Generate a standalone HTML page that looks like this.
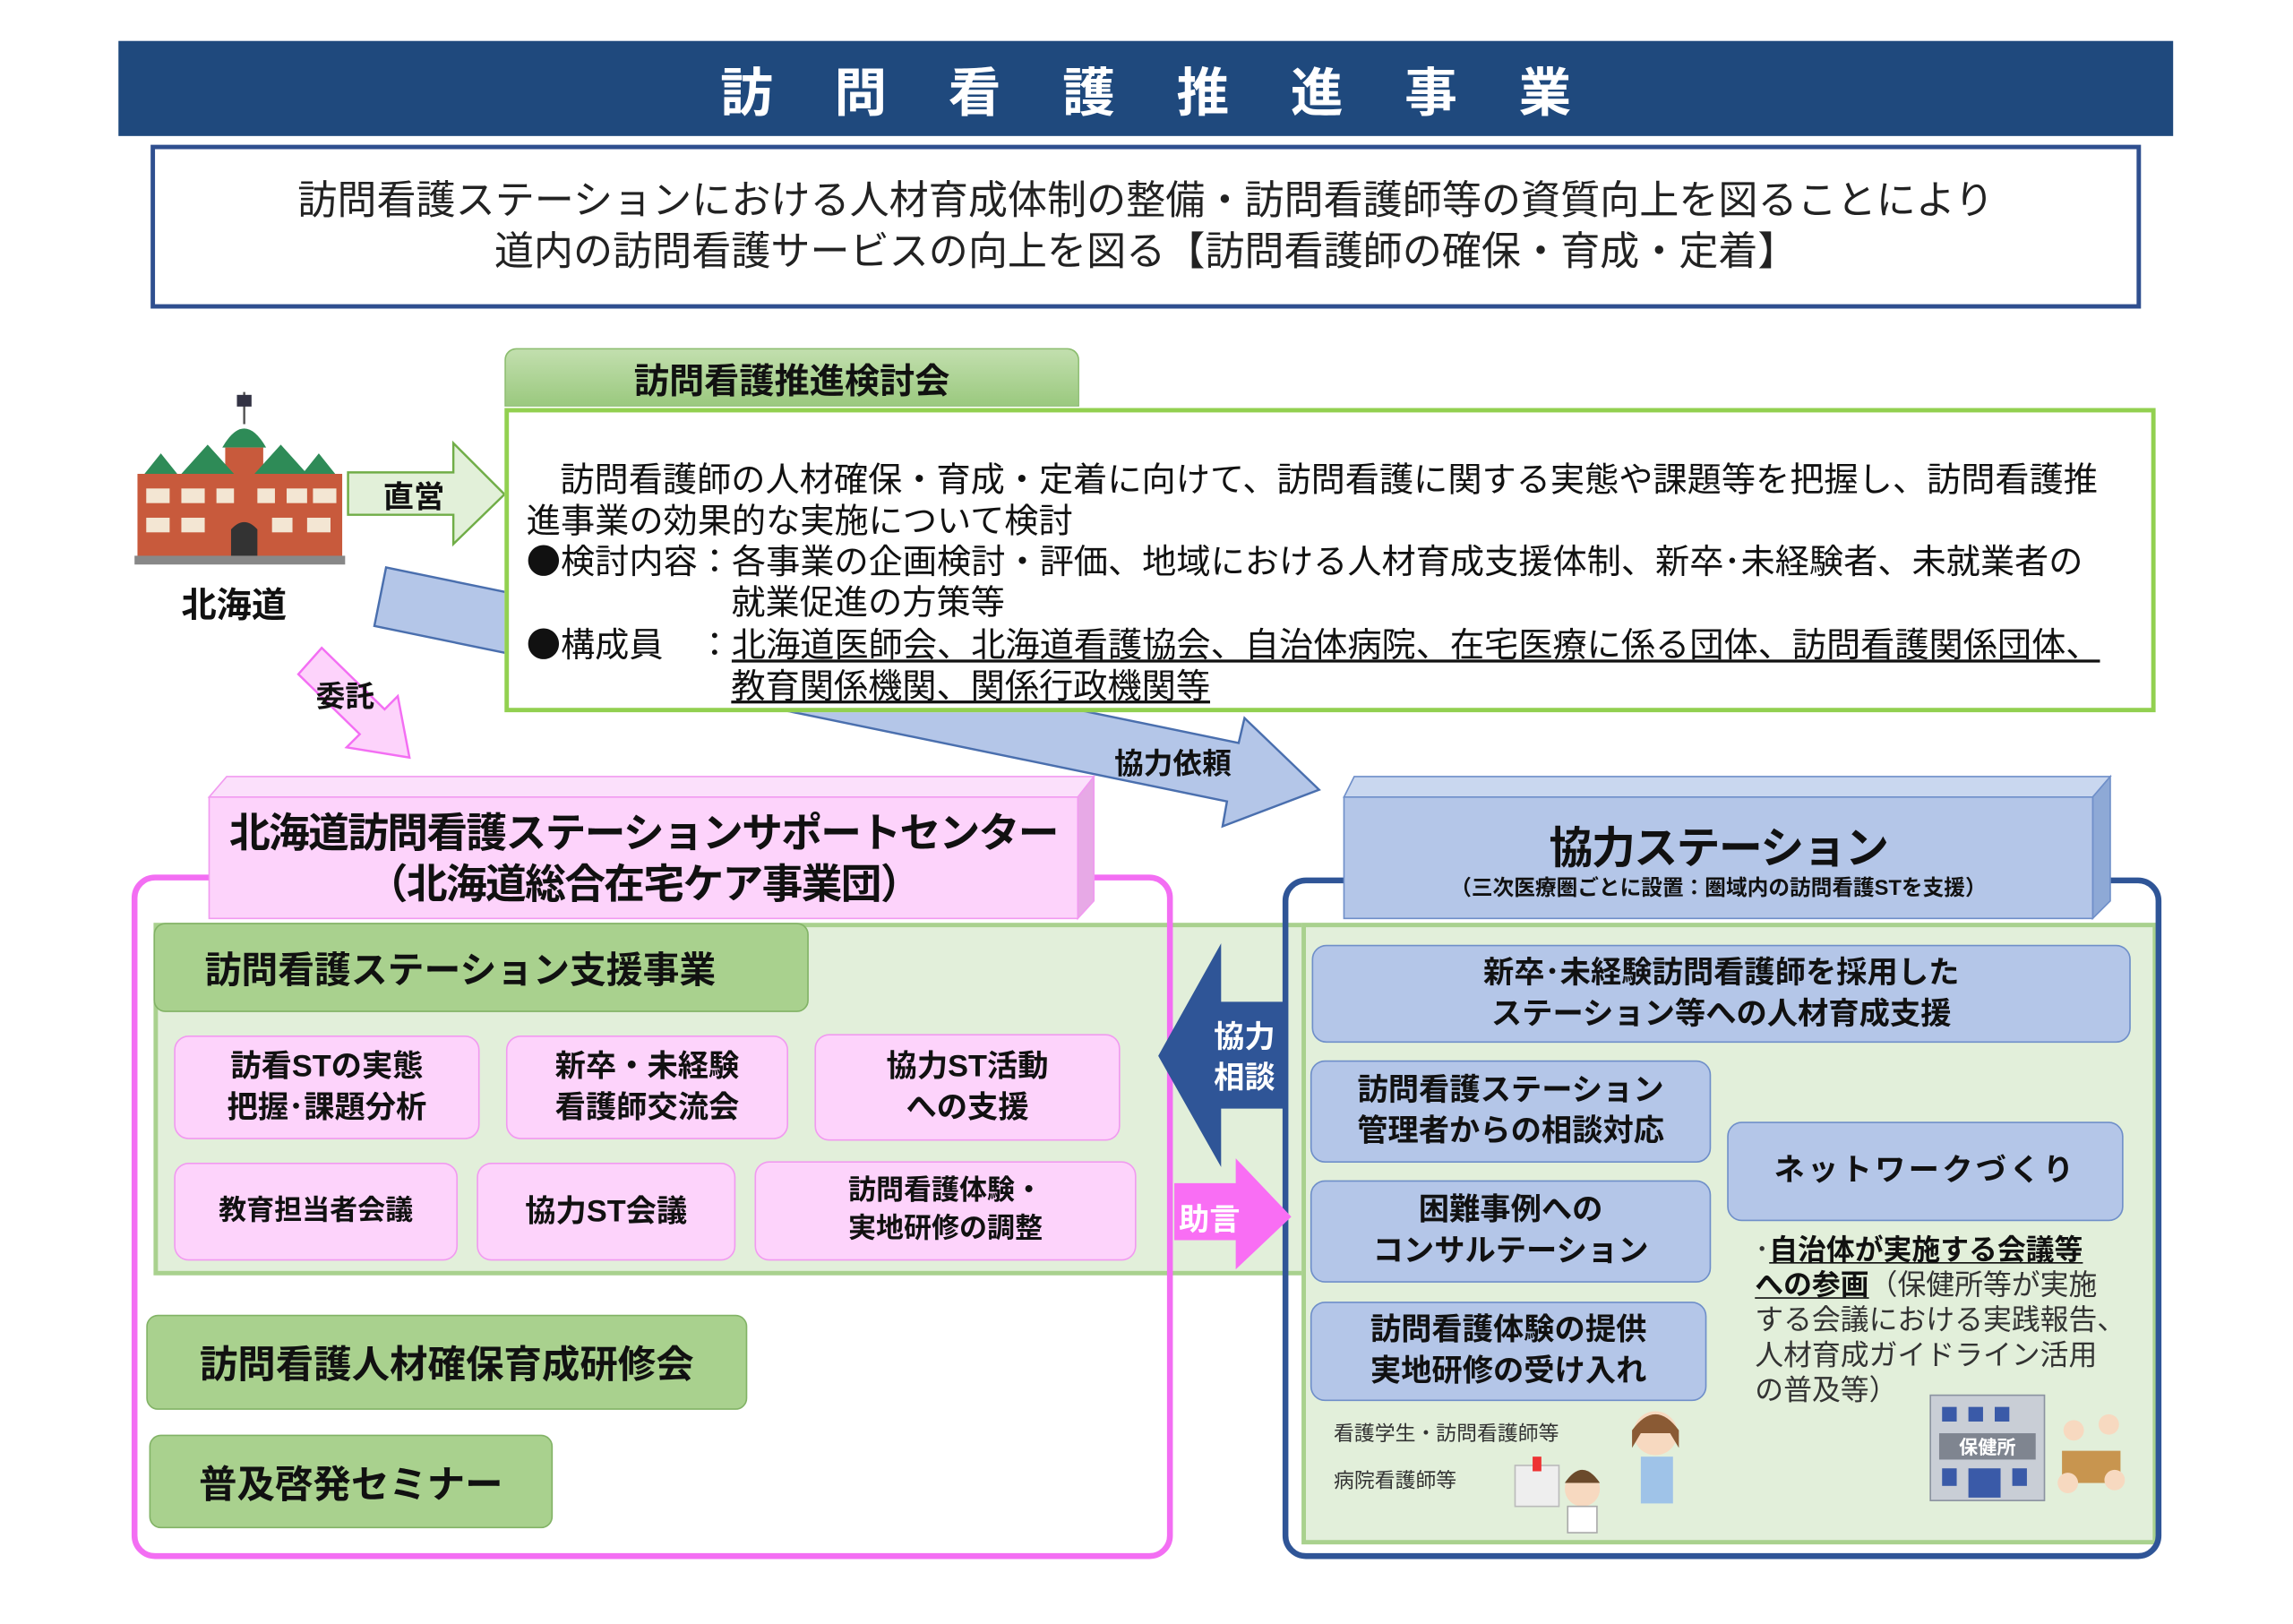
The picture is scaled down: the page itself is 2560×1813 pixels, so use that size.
<!DOCTYPE html>
<html><head><meta charset="utf-8">
<style>
html,body{margin:0;padding:0;background:#fff;}
body{width:2560px;height:1813px;overflow:hidden;position:relative;}
#w{position:absolute;left:0;top:0;width:1568px;height:1110px;transform:scale(1.6327);transform-origin:0 0;font-family:"Liberation Sans","Noto Sans CJK JP",sans-serif;color:#111;}
.a{position:absolute;box-sizing:border-box;}
.t{position:absolute;white-space:nowrap;}
.c{display:flex;align-items:center;justify-content:center;text-align:center;flex-direction:column;}
.pk{background:#fdd3fb;border:1.5px solid #f19af0;border-radius:10px;font-weight:bold;font-size:21px;line-height:28px;}
.bl{background:#b4c6e8;border:1.5px solid #6f8fc9;border-radius:10px;font-weight:bold;font-size:21px;line-height:28px;}
.gr{background:#a9d18e;border:1.5px solid #82b366;border-radius:8px;font-weight:bold;}
u{text-decoration:underline;text-underline-offset:2px;}
.j{font-family:"Noto Sans CJK JP",sans-serif;}
</style></head><body><div id="w">

<div class="a c" style="left:81px;top:28px;width:1405px;height:65px;background:#1f497d;color:#fff;font-weight:bold;font-size:36px;letter-spacing:42px;padding-left:42px;">訪問看護推進事業</div>

<div class="a c" style="left:103px;top:99px;width:1361px;height:112px;border:3px solid #2f4f8f;font-size:27px;line-height:35px;color:#222;">
<div>訪問看護ステーションにおける人材育成体制の整備・訪問看護師等の資質向上を図ることにより</div>
<div>道内の訪問看護サービスの向上を図る【訪問看護師の確保・育成・定着】</div></div>

<svg class="a" style="left:0;top:0;" width="1568" height="1110">
<polygon points="264,388 847,508 851,491 902,540 836,565 839,548 256,428" fill="#b4c6e8" stroke="#4a6fae" stroke-width="1.5"/>
<polygon points="220,443 263,485 272,476 280,518 237,511 246,502 204,461" fill="#fdd3fb" stroke="#f36ef3" stroke-width="1.5"/>
<polygon points="238,323 310,323 310,303 345,338 310,372 310,352 238,352" fill="#e2f0d9" stroke="#70ad47" stroke-width="1.5"/>
</svg>
<div class="t" style="left:262px;top:324px;font-weight:bold;font-size:21px;">直営</div>
<div class="t" style="left:216px;top:460px;font-weight:bold;font-size:20px;">委託</div>
<div class="t" style="left:762px;top:506px;font-weight:bold;font-size:20px;">協力依頼</div>

<svg class="a" style="left:90px;top:266px;" width="148" height="122">
<line x1="77" y1="2" x2="77" y2="24" stroke="#555" stroke-width="1.5"/>
<rect x="72" y="4" width="10" height="8" fill="#334" />
<path d="M62 40 Q77 14 92 40 Z" fill="#2e8b57"/>
<rect x="64" y="40" width="26" height="20" fill="#c85a3c"/>
<path d="M4 64 L20 44 L36 64 Z M34 58 L52 38 L70 58 Z M84 58 L102 38 L120 58 Z M112 64 L128 44 L144 64 Z" fill="#2e8b57"/>
<rect x="4" y="58" width="140" height="60" fill="#c85a3c"/>
<g fill="#f3e6d3"><rect x="10" y="68" width="16" height="10"/><rect x="34" y="68" width="16" height="10"/><rect x="58" y="68" width="12" height="10"/><rect x="86" y="68" width="12" height="10"/><rect x="106" y="68" width="14" height="10"/><rect x="124" y="68" width="16" height="10"/>
<rect x="10" y="88" width="16" height="10"/><rect x="34" y="88" width="16" height="10"/><rect x="96" y="88" width="14" height="10"/><rect x="120" y="88" width="16" height="10"/></g>
<path d="M68 118 L68 96 Q77 86 86 96 L86 118 Z" fill="#333"/>
<rect x="2" y="114" width="144" height="6" fill="#888"/>
</svg>
<div class="t" style="left:124px;top:394px;font-weight:bold;font-size:24px;">北海道</div>

<div class="a c" style="left:345px;top:238px;width:393px;height:40px;background:linear-gradient(#c2dfae,#9bc97f);border:1px solid #8bbd6e;border-radius:8px 8px 0 0;font-weight:bold;font-size:24px;">訪問看護推進検討会</div>
<div class="a j" style="left:345px;top:279px;width:1129px;height:208px;border:3px solid #92d050;background:#fff;font-size:23.4px;line-height:28.3px;">
<div class="t" style="left:35px;top:30px;">訪問看護師の人材確保・育成・定着に向けて、訪問看護に関する実態や課題等を把握し、訪問看護推</div>
<div class="t" style="left:12px;top:58px;">進事業の効果的な実施について検討</div>
<div class="t" style="left:12px;top:86px;">●検討内容：各事業の企画検討・評価、地域における人材育成支援体制、新卒･未経験者、未就業者の</div>
<div class="t" style="left:152px;top:114px;">就業促進の方策等</div>
<div class="t" style="left:12px;top:143px;">●構成員　：<u>北海道医師会、北海道看護協会、自治体病院、在宅医療に係る団体、訪問看護関係団体、</u></div>
<div class="t" style="left:152px;top:171px;"><u>教育関係機関、関係行政機関等</u></div>
</div>

<div class="a" style="left:105px;top:631px;width:1370px;height:241px;background:#e2efda;border:3px solid #a9d18e;"></div>
<div class="a" style="left:890px;top:631px;width:585px;height:425px;background:#e2efda;border:3px solid #a9d18e;"></div>

<div class="a" style="left:90px;top:598px;width:712px;height:468px;border:4px solid #f36ef3;border-radius:16px;"></div>
<div class="a" style="left:877px;top:600px;width:601px;height:466px;border:4px solid #2f5597;border-radius:16px;"></div>

<svg class="a" style="left:140px;top:528px;" width="612" height="104">
<polygon points="3,17 15,3 608,3 597,17" fill="#fbe0fb" stroke="#f19af0"/>
<polygon points="597,17 608,3 608,88 597,100" fill="#e7a9e6" stroke="#f19af0"/>
<rect x="3" y="17" width="594" height="83" fill="#fdd3fb" stroke="#f19af0"/>
</svg>
<div class="a c" style="left:143px;top:545px;width:594px;height:83px;font-weight:bold;font-size:28px;line-height:35px;letter-spacing:-1px;"><div>北海道訪問看護ステーションサポートセンター</div><div>（北海道総合在宅ケア事業団）</div></div>

<svg class="a" style="left:916px;top:528px;" width="530" height="104">
<polygon points="3,17 10,3 527,3 515,17" fill="#c9d7ef" stroke="#6f8fc9"/>
<polygon points="515,17 527,3 527,88 515,100" fill="#8ea9d6" stroke="#6f8fc9"/>
<rect x="3" y="17" width="512" height="83" fill="#b4c6e8" stroke="#6f8fc9"/>
</svg>
<div class="t" style="left:919px;top:555px;width:512px;text-align:center;font-weight:bold;font-size:30px;letter-spacing:-1px;">協力ステーション</div>
<div class="t" style="left:919px;top:596px;width:512px;text-align:center;font-weight:bold;font-size:14.5px;">（三次医療圏ごとに設置：圏域内の訪問看護STを支援）</div>

<div class="a gr c" style="left:105px;top:631px;width:448px;height:61px;font-size:25px;font-weight:normal;align-items:flex-start;padding-left:34px;"><b style="font-weight:bold;">訪問看護ステーション支援事業</b></div>
<div class="a pk c" style="left:119px;top:708px;width:209px;height:71px;"><div>訪看STの実態</div><div>把握･課題分析</div></div>
<div class="a pk c" style="left:346px;top:708px;width:193px;height:71px;"><div>新卒・未経験</div><div>看護師交流会</div></div>
<div class="a pk c" style="left:557px;top:707px;width:209px;height:73px;"><div>協力ST活動</div><div>への支援</div></div>
<div class="a pk c" style="left:119px;top:795px;width:194px;height:67px;font-size:19px;">教育担当者会議</div>
<div class="a pk c" style="left:326px;top:795px;width:177px;height:67px;">協力ST会議</div>
<div class="a pk c" style="left:516px;top:794px;width:261px;height:68px;font-size:19px;line-height:26px;"><div>訪問看護体験・</div><div>実地研修の調整</div></div>
<div class="a gr c" style="left:100px;top:899px;width:411px;height:65px;font-size:26px;">訪問看護人材確保育成研修会</div>
<div class="a gr c" style="left:102px;top:981px;width:276px;height:64px;font-size:26px;">普及啓発セミナー</div>

<svg class="a" style="left:0;top:0;" width="1568" height="1110">
<polygon points="792,722 835,645 835,685 880,685 880,758 835,758 835,798" fill="#2f5597"/>
<polygon points="803,809 845,809 845,792 883,832 845,868 845,848 803,848" fill="#f96ef4"/>
</svg>
<div class="a c" style="left:822px;top:694px;width:58px;height:60px;color:#fff;font-weight:bold;font-size:21px;line-height:28px;"><div>協力</div><div>相談</div></div>
<div class="t" style="left:806px;top:818px;color:#fff;font-weight:bold;font-size:21px;">助言</div>

<div class="a bl c" style="left:897px;top:646px;width:560px;height:67px;"><div>新卒･未経験訪問看護師を採用した</div><div>ステーション等への人材育成支援</div></div>
<div class="a bl c" style="left:896px;top:725px;width:274px;height:70px;"><div>訪問看護ステーション</div><div>管理者からの相談対応</div></div>
<div class="a bl c" style="left:896px;top:807px;width:274px;height:70px;"><div>困難事例への</div><div>コンサルテーション</div></div>
<div class="a bl c" style="left:896px;top:890px;width:271px;height:68px;"><div>訪問看護体験の提供</div><div>実地研修の受け入れ</div></div>
<div class="a bl c" style="left:1181px;top:767px;width:271px;height:68px;letter-spacing:2px;">ネットワークづくり</div>

<div class="a" style="left:1200px;top:843px;font-size:19.5px;line-height:24px;color:#333;white-space:nowrap;">
<div>･<b style="color:#111;"><u>自治体が実施する会議等</u></b></div>
<div><b style="color:#111;"><u>への参画</u></b>（保健所等が実施</div>
<div>する会議における実践報告、</div>
<div>人材育成ガイドライン活用</div>
<div>の普及等）</div></div>

<div class="t" style="left:912px;top:970px;font-size:14px;color:#333;">看護学生・訪問看護師等</div>
<div class="t" style="left:912px;top:1002px;font-size:14px;color:#333;">病院看護師等</div>

<svg class="a" style="left:1030px;top:960px;" width="130" height="92">
<rect x="6" y="42" width="30" height="28" fill="#eee" stroke="#bbb"/>
<rect x="18" y="36" width="6" height="10" fill="#e33"/>
<circle cx="52" cy="58" r="12" fill="#f7d9c0"/><path d="M40 54 Q52 36 64 54" fill="#6b4a2b"/>
<rect x="42" y="70" width="20" height="18" fill="#fff" stroke="#aaa"/>
<circle cx="102" cy="20" r="15" fill="#f7d9c0"/><path d="M86 18 Q102 -4 118 18 L118 30 L112 20 L92 20 L86 30 Z" fill="#8a5a34"/>
<rect x="92" y="36" width="22" height="32" fill="#9fc3e8"/>
</svg>
<svg class="a" style="left:1318px;top:948px;" width="140" height="82">
<rect x="2" y="6" width="78" height="72" fill="#c9ced6" stroke="#8b93a0"/>
<g fill="#3a5aa8"><rect x="10" y="14" width="10" height="10"/><rect x="28" y="14" width="10" height="10"/><rect x="46" y="14" width="10" height="10"/><rect x="10" y="56" width="10" height="12"/><rect x="28" y="56" width="22" height="20"/><rect x="58" y="56" width="10" height="12"/></g>
<rect x="8" y="32" width="66" height="18" fill="#7f8590"/>
<text x="41" y="46" font-size="13" fill="#fff" font-weight="bold" text-anchor="middle" font-family="Noto Sans CJK JP">保健所</text>
<rect x="92" y="44" width="40" height="22" fill="#c8954f"/>
<circle cx="100" cy="30" r="7" fill="#f7d9c0"/><circle cx="124" cy="26" r="7" fill="#f7d9c0"/><circle cx="96" cy="66" r="7" fill="#f7d9c0"/><circle cx="128" cy="64" r="7" fill="#f7d9c0"/>
</svg>

</div></body></html>
